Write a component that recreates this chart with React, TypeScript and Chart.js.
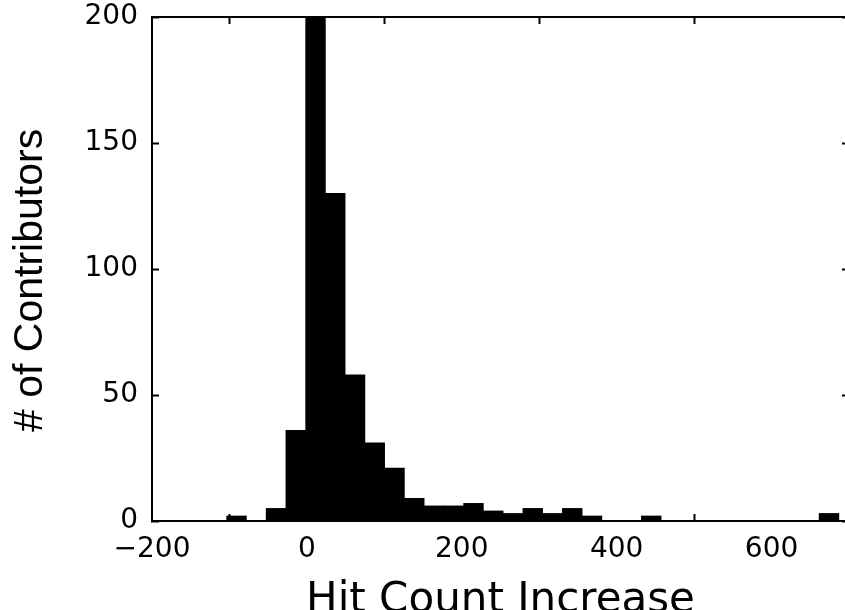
import { useEffect, useRef } from "react";
import { Chart, registerables } from "chart.js";

Chart.register(...registerables);

// Histogram bins (centre of each bin, in hit-count units) and counts per bin
const binCenters = [
  -90.85, -65.35, -39.85, -14.35, 11.15, 36.65, 62.15, 87.65, 113.15, 138.65,
  164.15, 189.65, 215.15, 240.65, 266.15, 291.65, 317.15, 342.65, 368.15, 393.65,
  419.15, 444.65, 470.15, 495.65, 521.15, 546.65, 572.15, 597.65, 623.15, 648.65,
  674.15,
];
const contributorCounts = [
  2, 0, 5, 36, 245, 130, 58, 31, 21, 9,
  6, 6, 7, 4, 3, 5, 3, 5, 2, 0,
  0, 2, 0, 0, 0, 0, 0, 0, 0, 0,
  3,
];
const xTickValues = [-200, 0, 200, 400, 600];
const yTickValues = [0, 50, 100, 150, 200];
const xTitle = "Hit Count Increase";
const yTitle = "# of Contributors  ";

const CANVAS_W = 870;
const CANVAS_H = 640;

const fmt = (v: number) => (v < 0 ? "\u2212" + Math.abs(v) : String(v));

export default function App() {
  const ref = useRef<HTMLCanvasElement | null>(null);

  useEffect(() => {
    if (!ref.current) return;
    const tickFont = { family: "'DejaVu Sans', sans-serif", size: 28 };
    const gridCommon = {
      drawOnChartArea: false,
      drawTicks: true,
      tickLength: -7,
      tickWidth: 2,
      tickColor: "#000",
    };
    const borderCommon = { display: true, color: "#000", width: 2 };
    const noPad = (s: any) => {
      s.paddingTop = 0;
      s.paddingBottom = 0;
      s.paddingLeft = 0;
      s.paddingRight = 0;
    };

    const chart = new Chart(ref.current, {
      type: "bar",
      data: {
        datasets: [
          {
            data: binCenters.map((x, i) => ({ x, y: contributorCounts[i] })),
            backgroundColor: "#000",
            borderWidth: 0,
            barPercentage: 1,
            categoryPercentage: 1,
          },
        ],
      },
      options: {
        animation: false,
        responsive: false,
        devicePixelRatio: 1,
        layout: { padding: { top: 17, right: CANVAS_W - 849, left: 0, bottom: 0 } },
        plugins: {
          legend: { display: false },
          tooltip: { enabled: false },
        },
        scales: {
          x: {
            type: "linear",
            position: "bottom",
            min: -200,
            max: 700,
            offset: false,
            afterBuildTicks: (s: any) => {
              s.ticks = xTickValues.map((v) => ({ value: v }));
            },
            afterFit: (s: any) => {
              s.height = CANVAS_H - 521;
              noPad(s);
            },
            grid: gridCommon,
            border: borderCommon,
            ticks: {
              color: "#000",
              font: tickFont,
              padding: 19,
              maxRotation: 0,
              autoSkip: false,
              callback: (v: any) => fmt(Number(v)),
            },
            title: {
              display: true,
              text: xTitle,
              color: "#000",
              font: { family: "'DejaVu Sans', sans-serif", size: 42 },
              padding: { top: 0, bottom: 14 },
            },
          },
          x2: {
            type: "linear",
            position: "top",
            min: -200,
            max: 700,
            offset: false,
            afterBuildTicks: (s: any) => {
              s.ticks = xTickValues.map((v) => ({ value: v }));
            },
            afterFit: (s: any) => {
              s.height = 0;
              noPad(s);
            },
            grid: gridCommon,
            border: borderCommon,
            ticks: { display: false },
          },
          y: {
            type: "linear",
            position: "left",
            min: 0,
            max: 200,
            afterBuildTicks: (s: any) => {
              s.ticks = yTickValues.map((v) => ({ value: v }));
            },
            afterFit: (s: any) => {
              s.width = 152;
              noPad(s);
            },
            grid: gridCommon,
            border: borderCommon,
            ticks: {
              color: "#000",
              font: tickFont,
              padding: 21,
              callback: (v: any) => fmt(Number(v)),
            },
            title: {
              display: true,
              text: yTitle,
              color: "#000",
              font: { family: "'Liberation Sans', Arial, sans-serif", size: 41 },
              padding: { top: 6, bottom: 0 },
            },
          },
          y2: {
            type: "linear",
            position: "right",
            min: 0,
            max: 200,
            afterBuildTicks: (s: any) => {
              s.ticks = yTickValues.map((v) => ({ value: v }));
            },
            afterFit: (s: any) => {
              s.width = 0;
              noPad(s);
            },
            grid: gridCommon,
            border: borderCommon,
            ticks: { display: false },
          },
        },
      } as any,
    });

    return () => chart.destroy();
  }, []);

  return (
    <div
      style={{
        position: "fixed",
        left: 0,
        top: 0,
        width: 845,
        height: 610,
        overflow: "hidden",
        background: "#fff",
      }}
    >
      <canvas ref={ref} width={CANVAS_W} height={CANVAS_H} />
    </div>
  );
}
